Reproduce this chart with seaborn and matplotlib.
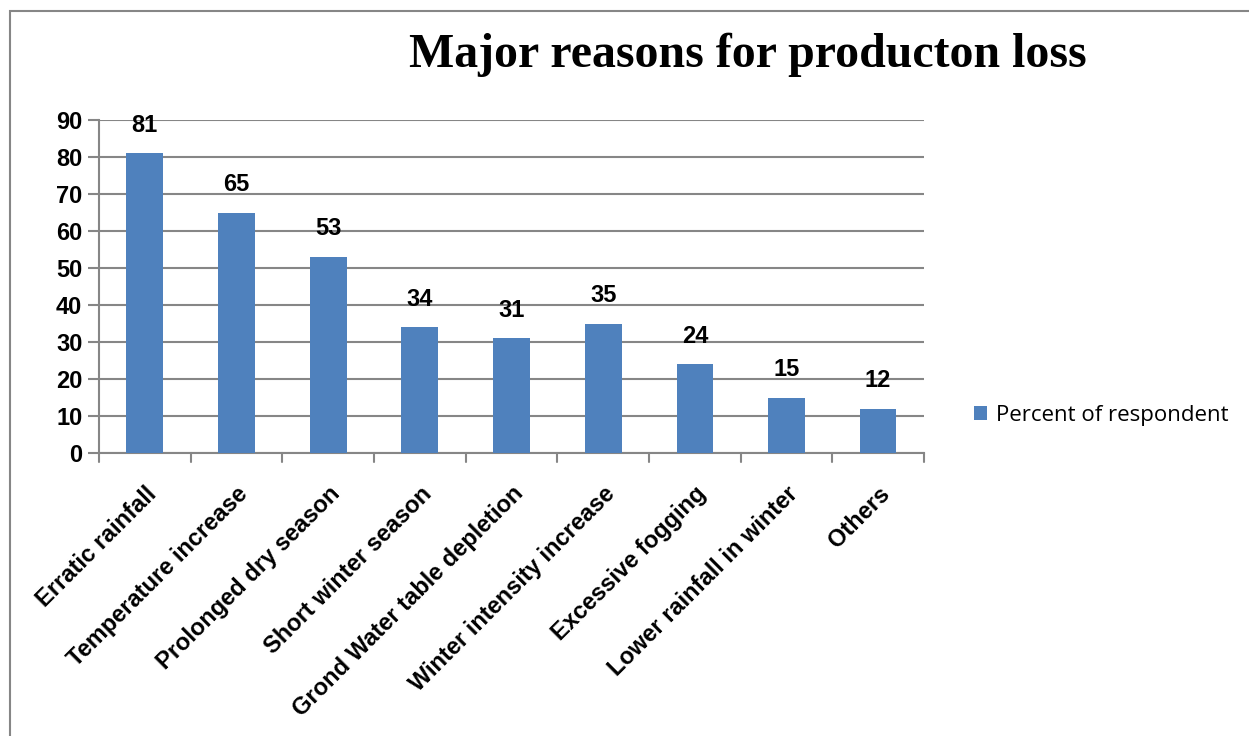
import matplotlib
matplotlib.use("Agg")
import matplotlib.pyplot as plt
import seaborn as sns
import pandas as pd
from matplotlib.patches import Rectangle

categories = ["Erratic rainfall", "Temperature increase", "Prolonged dry season",
              "Short winter season", "Grond Water table depletion",
              "Winter intensity increase", "Excessive fogging",
              "Lower rainfall in winter", "Others"]
values = [81, 65, 53, 34, 31, 35, 24, 15, 12]
series_name = "Percent of respondent"
title = "Major reasons for producton loss"
yticks = [0, 10, 20, 30, 40, 50, 60, 70, 80, 90]

sns.set_theme(style="white")
plt.rcParams['font.family'] = ['Open Sans', 'DejaVu Sans']
plt.rcParams['text.color'] = 'black'
plt.rcParams['xtick.color'] = 'black'
plt.rcParams['ytick.color'] = 'black'

BOLD = ['Liberation Sans', 'DejaVu Sans']

df = pd.DataFrame({"cat": categories, "val": values})

W, H = 1249, 736
fig = plt.figure(figsize=(W / 100, H / 100), dpi=100)
ax = fig.add_axes([99 / W, 1 - 453 / H, (924 - 99) / W, (453 - 120) / H])

bar_color = "#4F81BD"
grid_color = "#868686"
sns.barplot(data=df, x="cat", y="val", color=bar_color, width=0.4,
            saturation=1, ax=ax, label=series_name, zorder=3, linewidth=0)
if ax.get_legend() is not None:
    ax.get_legend().remove()

FS = 17
ax.set_ylim(0, 90)
ax.set_xlim(-0.5, len(categories) - 0.5)
ax.set_yticks(yticks)
ax.set_yticklabels([str(t) for t in yticks], fontsize=FS, fontweight="bold",
                   color="black", family=BOLD)
ax.yaxis.grid(True, color=grid_color, linewidth=1.5, zorder=0)
ax.set_axisbelow(True)
ax.set_xlabel("")
ax.set_ylabel("")

ax.set_xticks(range(len(categories)))
ax.set_xticklabels(categories, rotation=45, ha="right", rotation_mode="anchor",
                   fontsize=FS, fontweight="bold", color="black", family=BOLD)
ax.tick_params(axis="x", length=0, pad=21)
for b in [i - 0.5 for i in range(len(categories) + 1)]:
    ax.plot([b, b], [0, -0.028], transform=ax.get_xaxis_transform(),
            color=grid_color, linewidth=1.5, clip_on=False)
ax.tick_params(axis="y", length=8, width=1.5, color=grid_color, left=True, pad=4)

for s in ["top", "right"]:
    ax.spines[s].set_visible(False)
for s in ["left", "bottom"]:
    ax.spines[s].set_color(grid_color)
    ax.spines[s].set_linewidth(1.5)

for c in ax.containers:
    ax.bar_label(c, labels=[str(v) for v in values], padding=12,
                 fontsize=FS, fontweight="bold", color="black", family=BOLD)

fig.text(748 / W, 1 - 55 / H, title, ha="center", va="center",
         fontsize=34.5, fontweight="bold", family="Liberation Serif",
         color="black")

fig.legend(handles=ax.containers[0].patches[:1], labels=[series_name],
           loc="center left", bbox_to_anchor=(965 / W, 1 - 415 / H),
           frameon=False, fontsize=16, handlelength=0.6, handleheight=0.6,
           handletextpad=0.4, borderaxespad=0)

fig.patches.append(Rectangle((10 / W, -0.1), 1.2, (1 - 11 / H) + 0.1,
                             transform=fig.transFigure, fill=False,
                             edgecolor=grid_color, linewidth=1.5))

fig.savefig("out.png", dpi=100)
